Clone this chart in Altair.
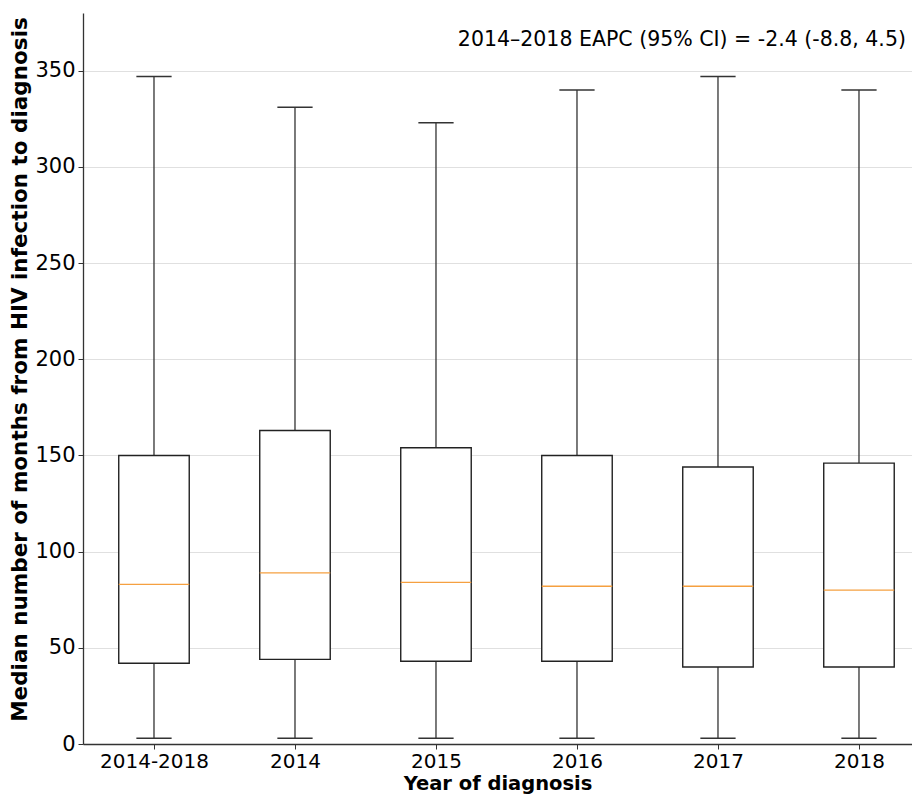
import json
import altair as alt
import pandas as pd

categories = ["2014-2018", "2014", "2015", "2016", "2017", "2018"]
whisker_low = [3, 3, 3, 3, 3, 3]
q1 = [42, 44, 43, 43, 40, 40]
median = [83, 89, 84, 82, 82, 80]
q3 = [150, 163, 154, 150, 144, 146]
whisker_high = [347, 331, 323, 340, 347, 340]
y_ticks = [0, 50, 100, 150, 200, 250, 300, 350]
annotation = "2014\u20132018 EAPC (95% CI) = -2.4 (-8.8, 4.5)"

df = pd.DataFrame({
    "category": categories,
    "pos": list(range(1, len(categories) + 1)),
    "low": whisker_low,
    "q1": q1,
    "median": median,
    "q3": q3,
    "high": whisker_high,
})

FONT = "DejaVu Sans"
xs = alt.Scale(domain=[0.4965, 6.376], nice=False, zero=False)
ys = alt.Scale(domain=[0, 380], nice=False)
label_expr = json.dumps(categories) + "[datum.value - 1]"

x_axis = alt.Axis(values=list(range(1, len(categories) + 1)), labelExpr=label_expr,
                  title="Year of diagnosis", grid=False, labelFontSize=20, labelPadding=2,
                  titleFontSize=19.5, titlePadding=3)
y_axis = alt.Axis(values=y_ticks, title="Median number of months from HIV infection to diagnosis",
                  grid=True, labelFontSize=21, labelPadding=3, titleFontSize=21.5,
                  titlePadding=3, titleY=356)

base = alt.Chart(df).transform_calculate(
    left="datum.pos - 0.25", right="datum.pos + 0.25",
    capl="datum.pos - 0.125", capr="datum.pos + 0.125",
)

line_col = "#333333"
lower = base.mark_rule(color=line_col, strokeWidth=1.3).encode(
    x=alt.X("pos:Q", scale=xs, axis=x_axis),
    y=alt.Y("low:Q", scale=ys, axis=y_axis),
    y2="q1:Q",
)
upper = base.mark_rule(color=line_col, strokeWidth=1.3).encode(
    x=alt.X("pos:Q", scale=xs), y=alt.Y("q3:Q", scale=ys), y2="high:Q")
cap_low = base.mark_rule(color=line_col, strokeWidth=1.5).encode(
    x=alt.X("capl:Q", scale=xs), x2="capr:Q", y=alt.Y("low:Q", scale=ys))
cap_high = base.mark_rule(color=line_col, strokeWidth=1.5).encode(
    x=alt.X("capl:Q", scale=xs), x2="capr:Q", y=alt.Y("high:Q", scale=ys))
box = base.mark_bar(fill="white", stroke="#222222", strokeWidth=1.4).encode(
    x=alt.X("left:Q", scale=xs), x2="right:Q",
    y=alt.Y("q1:Q", scale=ys), y2="q3:Q")
med = base.mark_rule(color="#f5a040", strokeWidth=1.3).encode(
    x=alt.X("left:Q", scale=xs), x2="right:Q", y=alt.Y("median:Q", scale=ys))

ann_df = pd.DataFrame({"label": [annotation], "x": [6.333], "y": [366]})
text = alt.Chart(ann_df).mark_text(align="right", baseline="middle", fontSize=20.5,
                                   font=FONT, color="black").encode(
    x=alt.X("x:Q", scale=xs), y=alt.Y("y:Q", scale=ys), text="label:N")

chart = alt.layer(lower, upper, cap_low, cap_high, box, med, text).properties(
    width=829, height=731,
    padding={"left": 75, "top": 5, "right": 0, "bottom": 53},
    autosize=alt.AutoSizeParams(type="none"),
).configure_view(stroke=None).configure_axis(
    labelFont=FONT, titleFont=FONT,
    titleFontWeight="bold", labelColor="black", titleColor="black",
    domainColor="#333333", domainWidth=1.3, tickColor="#333333", tickSize=5,
    gridColor="#dddddd", gridWidth=0.9,
)

chart.save("out.html", embed_options={"renderer": "svg", "actions": False})
